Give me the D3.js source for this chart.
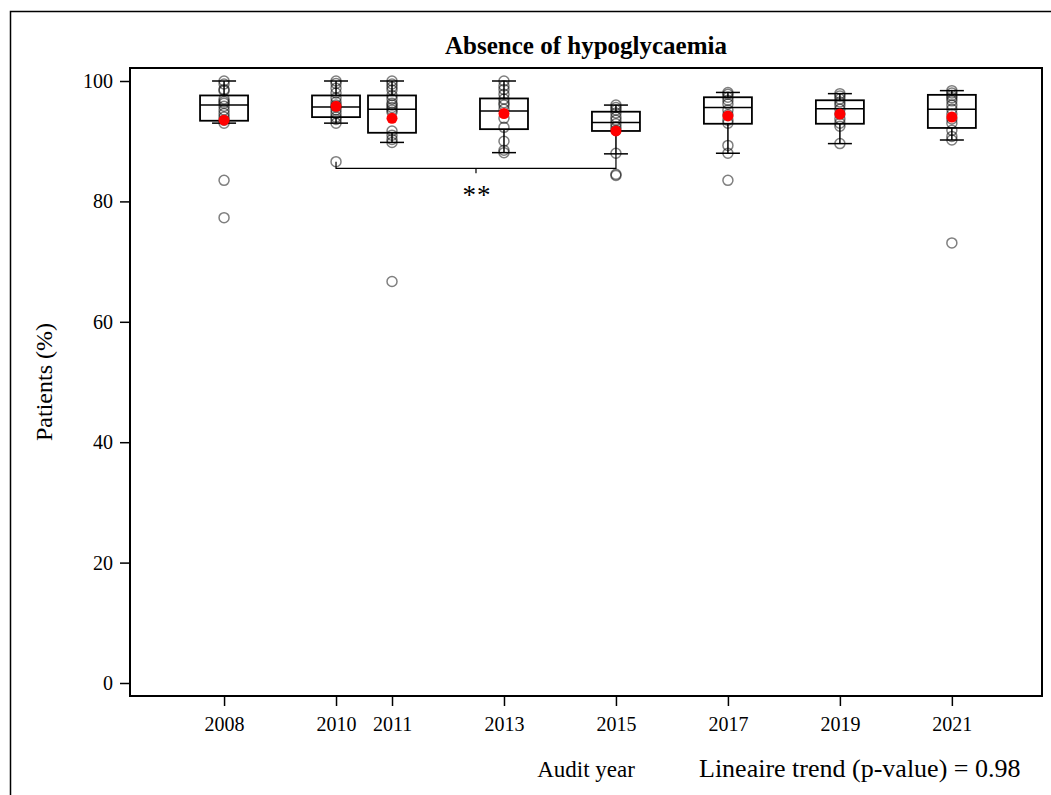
<!DOCTYPE html>
<html>
<head>
<meta charset="utf-8">
<script src="https://cdn.jsdelivr.net/npm/d3@7"></script>
<style>
  body { margin: 0; background: #fff; }
  svg text { font-family: "Liberation Serif", "Times New Roman", serif; fill: #000; }
</style>
</head>
<body>
<svg id="chart"></svg>
<script>
// audit years shown on the x axis
const years = [2008, 2010, 2011, 2013, 2015, 2017, 2019, 2021];

// box statistics per year (% of patients without hypoglycaemia)
const whiskerHigh = [100, 100, 100, 100, 96.0, 98.1, 97.9, 98.4];
const q3 = [97.6, 97.6, 97.6, 97.1, 94.9, 97.3, 96.8, 97.7];
const medians = [96.0, 95.7, 95.3, 95.0, 93.1, 95.6, 95.4, 95.3];
const q1 = [93.4, 94.0, 91.4, 92.0, 91.7, 92.9, 92.9, 92.2];
const whiskerLow = [93.0, 93.0, 89.8, 88.1, 87.9, 88.0, 89.6, 90.2];
const means = [93.5, 95.8, 93.8, 94.6, 91.7, 94.2, 94.5, 94.0];

// individual centre values per year
const points2008 = [100, 99.5, 98.6, 98.4, 97.0, 96.6, 96.3, 95.8, 95.2, 94.6, 94.0, 93.5, 93.0, 83.5, 77.3];
const points2010 = [100, 99.6, 98.8, 98.0, 97.2, 96.5, 96.0, 95.7, 95.2, 94.6, 94.0, 93.6, 93.0, 86.6];
const points2011 = [100, 99.5, 99.0, 98.5, 97.6, 97.0, 96.3, 96.0, 95.6, 95.2, 94.8, 91.7, 91.0, 90.3, 89.8, 66.7];
const points2013 = [100, 99.2, 98.6, 97.8, 97.0, 96.4, 96.0, 95.3, 93.8, 92.3, 90.0, 88.5, 88.1];
const points2015 = [96.0, 95.6, 95.2, 94.7, 94.0, 93.5, 92.9, 92.3, 91.8, 88.0, 84.5, 84.3];
const points2017 = [98.1, 97.8, 97.3, 96.8, 96.2, 95.2, 94.4, 93.5, 93.0, 89.3, 88.0, 83.5];
const points2019 = [97.9, 97.5, 97.0, 96.5, 96.0, 95.3, 94.5, 93.7, 93.0, 92.5, 89.6];
const points2021 = [98.4, 98.0, 97.6, 97.2, 96.7, 96.0, 95.3, 94.5, 93.7, 93.0, 91.8, 90.8, 90.2, 73.1];
const pointsByYear = [points2008, points2010, points2011, points2013, points2015, points2017, points2019, points2021];

const yTicks = [0, 20, 40, 60, 80, 100];

// significance bracket 2010 vs 2015
const bracketYears = [2010, 2015];
const bracketLevel = 85.5;
const bracketEnds = [86.6, 87.9];
const bracketLabel = "**";

const svgWidth = 1051, svgHeight = 795;
const margin = { top: 68, right: 9, bottom: 99, left: 130 };
const width = svgWidth - margin.left - margin.right;
const height = svgHeight - margin.top - margin.bottom;

const svg = d3.select("#chart")
    .attr("width", svgWidth)
    .attr("height", svgHeight);

// outer frame
svg.append("rect")
    .attr("x", 10.5).attr("y", 11.5)
    .attr("width", 1060).attr("height", 800)
    .attr("fill", "none").attr("stroke", "#000").attr("stroke-width", 1.5);

const g = svg.append("g")
    .attr("transform", "translate(" + margin.left + "," + margin.top + ")");

const x = d3.scaleLinear()
    .domain([2006.32, 2022.61])
    .range([0, width]);

const y = d3.scaleLinear()
    .domain([-2.16, 102.16])
    .range([height, 0]);

// axes
const yAxis = d3.axisLeft(y).tickValues(yTicks).tickSize(10).tickPadding(7);
const xAxis = d3.axisBottom(x).tickValues(years).tickFormat(d3.format("d")).tickSize(10).tickPadding(11);

const ya = g.append("g").call(yAxis);
const xa = g.append("g").attr("transform", "translate(0," + height + ")").call(xAxis);
[ya, xa].forEach(function(a) {
    a.select(".domain").remove();
    a.selectAll("line").attr("stroke", "#000").attr("stroke-width", 1.5);
    a.selectAll("text").style("font-family", "Liberation Serif, serif").style("font-size", "20px").attr("fill", "#000");
});

// plot frame
g.append("rect")
    .attr("width", width).attr("height", height)
    .attr("fill", "none").attr("stroke", "#000").attr("stroke-width", 2);

const boxHalf = 24, capHalf = 12;

// individual points
pointsByYear.forEach(function(pts, i) {
    g.selectAll(null)
        .data(pts)
        .enter().append("circle")
        .attr("cx", x(years[i]))
        .attr("cy", function(d) { return y(d); })
        .attr("r", 5)
        .attr("fill", "none")
        .attr("stroke", "#000")
        .attr("stroke-opacity", 0.5)
        .attr("stroke-width", 1.5);
});

// boxes
const boxes = g.selectAll(".box")
    .data(years)
    .enter().append("g")
    .attr("class", "box")
    .attr("transform", function(d) { return "translate(" + x(d) + ",0)"; });

boxes.append("line")
    .attr("y1", function(d, i) { return y(whiskerHigh[i]); })
    .attr("y2", function(d, i) { return y(q3[i]); })
    .attr("stroke", "#000").attr("stroke-width", 1.5);
boxes.append("line")
    .attr("y1", function(d, i) { return y(q1[i]); })
    .attr("y2", function(d, i) { return y(whiskerLow[i]); })
    .attr("stroke", "#000").attr("stroke-width", 1.5);
boxes.append("line")
    .attr("x1", -capHalf).attr("x2", capHalf)
    .attr("y1", function(d, i) { return y(whiskerHigh[i]); })
    .attr("y2", function(d, i) { return y(whiskerHigh[i]); })
    .attr("stroke", "#000").attr("stroke-width", 1.5);
boxes.append("line")
    .attr("x1", -capHalf).attr("x2", capHalf)
    .attr("y1", function(d, i) { return y(whiskerLow[i]); })
    .attr("y2", function(d, i) { return y(whiskerLow[i]); })
    .attr("stroke", "#000").attr("stroke-width", 1.5);
boxes.append("rect")
    .attr("x", -boxHalf).attr("width", boxHalf * 2)
    .attr("y", function(d, i) { return y(q3[i]); })
    .attr("height", function(d, i) { return y(q1[i]) - y(q3[i]); })
    .attr("fill", "none").attr("stroke", "#000").attr("stroke-width", 1.8);
boxes.append("line")
    .attr("x1", -boxHalf).attr("x2", boxHalf)
    .attr("y1", function(d, i) { return y(medians[i]); })
    .attr("y2", function(d, i) { return y(medians[i]); })
    .attr("stroke", "#000").attr("stroke-width", 1.5);
boxes.append("circle")
    .attr("cy", function(d, i) { return y(means[i]); })
    .attr("r", 5.5)
    .attr("fill", "#ff0000");

// significance bracket
const bx0 = x(bracketYears[0]), bx1 = x(bracketYears[1]), by = y(bracketLevel);
const bmid = x((bracketYears[0] + bracketYears[1]) / 2);
g.append("path")
    .attr("d", "M" + bx0 + "," + y(bracketEnds[0]) + "V" + by + "H" + bx1 + "V" + y(bracketEnds[1]) +
        "M" + bmid + "," + by + "v5")
    .attr("fill", "none").attr("stroke", "#000").attr("stroke-width", 1.2);
g.append("text")
    .attr("x", bmid + 1).attr("y", by + 36)
    .attr("text-anchor", "middle")
    .style("font-size", "27px")
    .style("letter-spacing", "1px")
    .text(bracketLabel);

// titles
svg.append("text")
    .attr("x", 586).attr("y", 54)
    .attr("text-anchor", "middle")
    .style("font-size", "25px").style("font-weight", "bold")
    .text("Absence of hypoglycaemia");

svg.append("text")
    .attr("transform", "translate(52," + (margin.top + y(50)) + ") rotate(-90)")
    .attr("text-anchor", "middle")
    .style("font-size", "24px")
    .text("Patients (%)");

svg.append("text")
    .attr("x", 586).attr("y", 777)
    .attr("text-anchor", "middle")
    .style("font-size", "23px")
    .text("Audit year");

svg.append("text")
    .attr("x", 699).attr("y", 777)
    .style("font-size", "26px")
    .text("Lineaire trend (p-value) = 0.98");
</script>
</body>
</html>
